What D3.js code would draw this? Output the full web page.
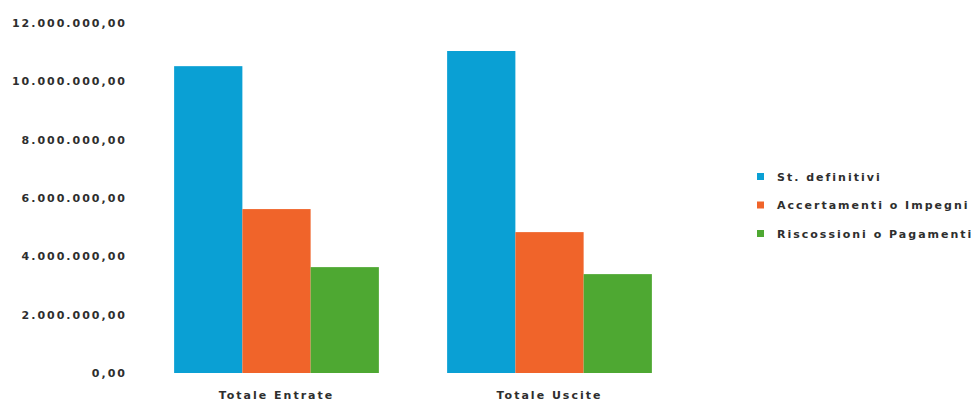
<!DOCTYPE html>
<html>
<head>
<meta charset="utf-8">
<script src="https://cdn.jsdelivr.net/npm/d3@7"></script>
<style>
  body { margin: 0; background: #fff; }
  .chart { width: 974px; height: 405px; }
  text { font-family: "DejaVu Sans", sans-serif; font-size: 11px; font-weight: bold; fill: #2e2e2e; letter-spacing: 2px; }
</style>
</head>
<body>
<div class="chart"></div>
<script>
let categories = ["Totale Entrate", "Totale Uscite"];
let seriesNames = ["St. definitivi", "Accertamenti o Impegni", "Riscossioni o Pagamenti"];
let stDefinitivi = [10520000, 11040000];
let accertamenti = [5620000, 4830000];
let riscossioni = [3630000, 3390000];
let yTicks = [0, 2000000, 4000000, 6000000, 8000000, 10000000, 12000000];
let colors = ["#0aa0d4", "#f0642a", "#4ea832"];

function init() {
    let seriesValues = [stDefinitivi, accertamenti, riscossioni];

    let svg = d3.select(".chart").append("svg")
        .attr("width", 974)
        .attr("height", 405);

    // plot area
    let left = 140, right = 686, top = 23, bottom = 373;

    let xScale = d3.scaleBand()
        .domain(categories)
        .range([left, right])
        .paddingInner(0.25)
        .paddingOuter(0.125);

    let xSub = d3.scaleBand()
        .domain(seriesNames)
        .range([0, xScale.bandwidth()]);

    let yScale = d3.scaleLinear()
        .domain([0, 12000000])
        .range([bottom, top]);

    let fmt = d3.formatLocale({ decimal: ",", thousands: ".", grouping: [3], currency: ["", ""] }).format(",.2f");

    let yAxis = svg.append("g")
        .attr("class", "axis y-axis")
        .attr("transform", "translate(127,0)")
        .call(d3.axisLeft(yScale).tickValues(yTicks).tickFormat(fmt).tickSize(0).tickPadding(0));
    yAxis.select(".domain").remove();
    yAxis.selectAll("text").attr("dy", "0.32em");

    let groups = svg.append("g").selectAll("g")
        .data(categories)
        .join("g")
        .attr("transform", d => `translate(${xScale(d)},0)`);

    groups.selectAll("rect")
        .data((d, i) => seriesNames.map((s, j) => ({ s: s, j: j, v: seriesValues[j][i] })))
        .join("rect")
        .attr("x", d => xSub(d.s))
        .attr("y", d => yScale(d.v))
        .attr("width", xSub.bandwidth())
        .attr("height", d => yScale(0) - yScale(d.v))
        .attr("fill", d => colors[d.j]);

    let xAxis = svg.append("g")
        .attr("class", "axis x-axis")
        .attr("transform", `translate(0,${bottom})`)
        .call(d3.axisBottom(xScale).tickSize(0).tickPadding(18));
    xAxis.select(".domain").remove();
    yAxis.attr("font-size", null).attr("font-family", null);
    xAxis.attr("font-size", null).attr("font-family", null);

    let legend = svg.append("g").attr("transform", "translate(757,177)");
    let rows = legend.selectAll("g")
        .data(seriesNames)
        .join("g")
        .attr("transform", (d, i) => `translate(0,${i * 28.5})`);
    rows.append("rect")
        .attr("x", 0).attr("y", -4)
        .attr("width", 7).attr("height", 7)
        .attr("fill", (d, i) => colors[i]);
    rows.append("text")
        .attr("x", 20)
        .attr("dy", "0.32em")
        .text(d => d);
}

init();
</script>
</body>
</html>
